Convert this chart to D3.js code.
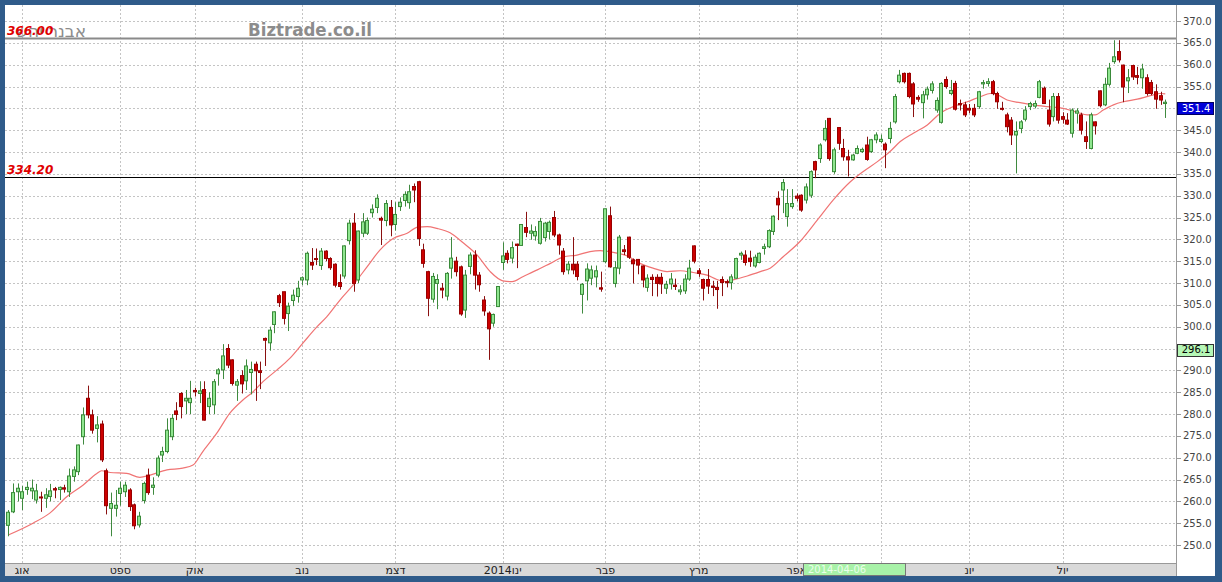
<!DOCTYPE html>
<html><head><meta charset="utf-8">
<script src="https://cdn.jsdelivr.net/npm/d3@7"></script>
<style>html,body{margin:0;padding:0;background:#2f5b8a;} svg{display:block}</style>
</head><body><svg id="c" width="1222" height="582"></svg>
<script>
// ---------- DATA ----------
const candleOpen = [254.5,257.6,262.2,260.7,262.7,262.4,260.3,261,260.7,261.1,
262.9,262.7,263.1,262.2,265.7,266.8,274.8,283.6,279.8,276.7,
277.7,267,258.4,258.4,261.8,262.2,262.6,259.2,254.6,260.2,
266,263.2,266,270.6,271.4,
274.8,280.7,284.7,283,282.6,
285.4,284.7,285.6,281.7,282.1,289.2,290.1,295,292.4,286.6,
288.8,287.6,289.5,291.4,289.9,297.3,296.3,300.5,307.1,308,
303,306,306.9,310.7,310.7,314.7,315.6,
314,317.3,315.6,314.3,310.1,311.6,319.7,323.7,310.7,321.4,
321.4,326.1,327.3,324.8,324.3,327.3,323.4,327.5,328.9,328.4,
332.1,333.2,317.6,312.6,306.3,309.9,308.8,307,313.4,315,313.7,303.8,
313.8,316.4,311.8,306.1,303.1,300.8,304.6,314.7,316.8,315.7,
318.9,318.6,322.7,321.4,320.8,319.1,320.4,321.8,325,321,
317.3,313,314.3,314.3,307.4,310.5,311.1,311.4,308.9,314.9,325.4,309.9,
313.4,317.6,320.5,315.3,315.4,313.9,309,311.3,311.3,311.3,
308.8,309.8,309.5,308,308.2,310.9,318.5,312.8,310.8,310.8,
309.3,309,310.8,310.3,310.1,311.1,316.4,316.4,315.7,313.9,314.7,317.9,318.3,
321.8,329.4,331.3,325.2,327.5,329.9,330.1,329,330.1,337.8,
338.5,342.8,347.7,335.5,345.6,340.8,338.9,338.2,339.7,340.1,
341.6,340.1,342.8,342.4,341.8,343.1,346.9,356.1,358,358,355.6,352.5,
351.3,353.1,354.1,349.6,346.8,356.6,353.4,355.7,351.1,350.8,
350,350,350.4,355.6,355.7,356.1,353.4,350,348.5,347.3,
343.9,345.4,347.5,350.4,350.5,352.5,354.6,349.6,
348.1,352.7,348.1,347.3,344.3,348.9,348.5,343.5,340.8,346.9,
354,350.8,355.5,360.7,363,359.9,356.3,359.8,357.5,357,
357,355.9,353.8,352.9,351.1];
const candleHigh = [258,264.1,264.1,263.5,264.5,265,264,262.2,263,264,
263.3,263.4,263.8,267.5,268,273,281.5,286.5,281,279.5,
278.5,267.5,262,262.6,264.5,264.5,263,259.5,257.6,264.5,
267.5,265.5,270.5,272.5,279,
280,282.7,285,285.5,287.6,
286,287.5,287.5,285,288,290.5,296,296,292.5,288,
290,292.5,292,292,292,297.5,300,303.5,307.5,308,
305.5,308.5,310.5,311.5,317.2,318,317.9,
318,317.5,315.9,314.5,312,318.6,324.5,326,322,326,
325,328,330.3,325.2,329,329,328.5,329.6,331,332.5,
332.8,333.4,319,312.8,312.3,312,310,312.5,320.5,316,314,313,
317,317.5,312.5,307,303.5,303,309.3,319.3,317.5,319.5,
319,323.5,326.3,323.4,323,324.9,324,324.3,326.5,321.3,
318,315,320.5,315,310,314.5,314,314,312.6,327,327.5,315,
321,318.7,320.6,315.6,315.5,314,312,312,312,312.3,
310.5,312.3,311,309.5,312,315.3,318.6,313.4,311,313.2,
310.5,310.5,311.5,310.8,312,315.8,317.2,317.5,317.4,316.5,317,319,322.3,
325.5,331,333.8,331.5,331.5,330.5,330.3,332.8,335.8,338,
342,347.3,347.8,341,345.7,343,340.5,339.6,341.5,341,
343.5,343,344.5,344,342.2,346.9,353.3,358.8,358.2,358.2,356,353,
354,355,356.2,352.5,356,357.3,356.5,356.3,352,351.5,
351,351,354,356.5,356.9,356.5,353.8,351.5,349,348,
347,347.3,350.5,351.5,351.8,356.5,355,352,
353.5,353.5,349.1,348.9,350,350,349,347,349,347,
354.1,357,360.4,365.6,365.6,360,359,360,359.5,360.2,
357.8,356.5,355.5,353.8,352];
const candleLow = [252,257.3,260,258,261.5,260.5,259.5,257.6,258.5,260,
260.7,260.3,262,261,264.5,266,273,279,275.5,273.5,
269,257,252,256.5,259,261,257.8,253.6,254,259.5,
261.5,261.5,265.5,269,271,
274,278.6,279,280,280,
284,282.5,278.5,280,280,286.5,288,290.5,286.5,283,
284.7,285.5,284.5,283,285.7,291,294.5,298.5,304.5,300.5,
299,304.7,305.5,309.5,309.5,313,314.1,
313,315,313,309,308.5,311,318.8,308,310,320.5,
321,325,326,318.7,323,320.7,322,326.5,327.5,327,
328.5,318.5,313.5,302.4,305.5,304,306.5,306,311,311.5,302.5,302,
312,308.5,308,302.5,292.4,300,304.5,313,314.5,314.5,
313.4,318.5,320.5,319.9,319.7,318.8,319.5,320,320.5,316.5,
311.9,312,312,310.6,303,306,309.5,309,308,314.5,313.5,309,
312,316.4,315.5,309.9,312,309,308,307,306.9,307.5,
307.5,308.5,308.4,307.3,307.5,310.5,314.5,311.4,306,307.5,
307,304.1,307,309,308.5,311,315.3,314,313.7,313.5,314.5,316.5,318,
321,324.4,326,322.9,327,328.7,326.3,328.2,329.5,334,
337.5,342.4,338,335,340.5,338,334.4,338,339.5,339.8,
338,339.8,342,342,336.3,342,346.5,355.7,355.7,352.3,348,351.5,
347.7,352,353.4,349,346.5,354.5,353,349.5,349.5,348,
348.9,348,349.9,354.5,355,353,349.9,349.5,344.5,341.6,
335.1,344.3,347,349.6,350,352.3,351,345.8,
347,346.5,346.5,346.2,343.3,346.5,344,340.7,340.6,344,
350.2,350.5,355,360.2,360.5,351.4,353.5,356.5,355.5,354.5,
352.9,353,349.9,350.8,347.8];
const candleClose = [257.5,262,263,262.2,263.2,263,262.4,260.8,261.5,262.4,
262.6,263.2,262.8,265.8,267.2,272.9,279.8,279.8,276.3,277.5,
269.5,259,259.5,259.1,263,263.7,258.8,254.4,256.6,264.1,
262,263.7,269.9,271.4,276.3,
279,279.9,281.7,283.6,283.6,
285.1,285.3,278.6,283.6,287.4,290.1,293.3,291.2,287,287.4,
286.9,291,290.2,289.9,289.5,296.9,299.2,303.4,305.5,301.9,
304.7,307.2,308.8,311.2,316.8,314.1,315.4,
317.3,315.6,313.5,309.5,309.2,318.5,323.7,309.9,321.9,324,
324.3,326.9,329.4,324.4,328.2,323.3,325.7,328.5,330.3,330.9,
331.3,320.2,314.5,306.5,311.5,310.8,308.4,312.2,315.7,312.6,302.9,311.8,
316.4,311.8,309.6,303.6,299.5,302.8,309.2,316.2,315.4,318.1,
318.6,323.4,321.6,321.9,321.8,324.1,323.7,323.9,321,318.7,
312.6,314.3,313,311.5,309.7,313.2,313,312.8,308.6,327,313.7,313.5,
320.5,317.2,315.9,314.4,314.1,310.7,311.1,310.8,309.9,309.8,
309.7,310.9,309.2,308.4,310.9,313.4,315,312.2,308.8,309.3,
309,308.5,310.1,310.1,311.4,315.6,316.8,314.7,314.9,315.9,316.8,318.3,322,
325.3,327.9,333,328.2,328.2,329.4,326.7,332,335.5,335.9,
341.6,345.4,338.5,340.5,342,338.9,338.2,339.3,340.8,340.6,
338.3,342.8,343.9,342.9,340.5,345.4,352.7,357.6,356.1,352.7,351,352.1,
353.1,354.4,355.6,351.8,355.7,355,354.1,349.8,350.8,348.5,
349.6,348.5,353.8,355.9,356.1,353.4,351.5,349.8,345.8,343.9,
344.7,346.9,349.6,351.1,351.1,356.1,351.1,346.4,
352.7,347.3,347.5,346.4,349.6,349.4,345,342.4,348.5,346,
350.6,355.5,359.2,361.8,361.1,354.9,357,357.2,357.1,359,
353.4,353.4,352.1,351.9,351.4];

// moving average, read at sample positions (candle index, value)
const maIndex = [0,5.3,8.9,12.6,16,19,20,21.8,25.4,28.2,30.4,34,37.4,39.6,41.7,44.7,47.5,50.3,52.5,54.6,57.6,60.4,63.2,66.2,68.3,71.1,73.9,76.9,79.7,82.5,85.5,87.8,89.8,91.9,94.7,97.5,100.5,103.3,106,108,110.4,113.4,116.2,119,121.9,124.7,126.9,129.7,132.7,135.4,138.2,141.2,144,146.8,149.8,151.9,154.1,155.4,158.4,161.2,163.3,166.1,169.7,173.4,176.8,180.5,183.2,186.3,189,191.2,194,197,199.8,202.6,205.6,208.4,210.5,212,214.1,216.9,219.7,222.7,226.1,229.1,231.3,233,234.7,236.9,239,242,244.8,246.9,248];
const maValue = [252.3,255,257.3,261.1,263.7,266.4,267,266.6,266.4,265.5,266,267.2,267.6,268.3,271.4,275.6,280.2,283.2,285.1,287.4,290.1,292.8,296.3,300,302.3,306.1,309.5,313.7,317.6,320.2,321.4,322.8,322.9,322.5,321.5,319.2,316.4,312.6,310.5,310.3,311.5,313,314.5,316,316.4,317.2,317.4,317,316.2,314.5,313.4,312.6,312.8,312.4,311.8,310.8,310.3,310.7,311.6,312.6,313.4,316,319.5,324.4,329,333.2,335.5,337.8,340.1,342.4,344.3,346.2,348.9,350.4,351.5,352.7,353.4,353.1,351.9,351.3,350.8,350.4,350,349.1,348.5,348.5,349.6,350.8,351.5,352.1,352.9,353.4,353.3];

const yTicks = [250,255,260,265,270,275,280,285,290,295,300,305,310,315,320,325,330,335,340,345,350,355,360,365,370];
const monthIndex = [3,24,40,63,83,106,128,148,169,187,206,226];
const monthLabels = ["אוג","ספט","אוק","נוב","דצמ","2014ינו","פבר","מרץ","אפר","מאי","יונ","יול"];
const levelValues = [366.00, 334.20];
const levelLabels = ["366.00","334.20"];
const lastPrice = 351.4;
const cursorPrice = 296.1;
const cursorDate = "2014-04-06";
const stockName = "אבנר יהש";
const siteName = "Biztrade.co.il";

// ---------- LAYOUT ----------
const W = 1222, H = 582;
const L = 5, R = 1176, T = 5, B = 563, AX_R = 1215, AX_B = 576;
const svg = d3.select("#c");
const n = candleOpen.length;

svg.append("rect").attr("x",0).attr("y",0).attr("width",W).attr("height",H).attr("fill","#2f5b8a");
svg.append("rect").attr("x",L).attr("y",T).attr("width",AX_R-L).attr("height",AX_B-T).attr("fill","#ffffff");
svg.append("rect").attr("x",L).attr("y",B).attr("width",R-L).attr("height",AX_B-B).attr("fill","#d9d9d9");

const x = d3.scaleLinear().domain([-0.7, n + 1.3]).range([L, R]);
const y = d3.scaleLinear().domain([250, 370]).range([545, 21]);

const plot = svg.append("g");
svg.append("clipPath").attr("id","clip").append("rect").attr("x",L).attr("y",T).attr("width",R-L).attr("height",B-T);
plot.attr("clip-path","url(#clip)");

// grid
plot.selectAll("line.hg").data(yTicks).join("line")
  .attr("x1",L).attr("x2",R)
  .attr("y1",d=>Math.round(y(d))+0.5).attr("y2",d=>Math.round(y(d))+0.5)
  .attr("stroke","#c4c4c4").attr("stroke-dasharray","2,2").attr("stroke-width",1);
plot.selectAll("line.vg").data(monthIndex).join("line")
  .attr("x1",d=>Math.round(x(d))+0.5).attr("x2",d=>Math.round(x(d))+0.5)
  .attr("y1",T).attr("y2",B)
  .attr("stroke","#c4c4c4").attr("stroke-dasharray","2,2").attr("stroke-width",1);

// header texts
svg.append("text").attr("x",86).attr("y",37).attr("text-anchor","end")
  .attr("font-family","DejaVu Sans, sans-serif").attr("font-size",17).attr("fill","#8c8c8c").text(stockName);
svg.append("text").attr("x",248).attr("y",36)
  .attr("font-family","DejaVu Sans, sans-serif").attr("font-weight","bold").attr("font-size",17)
  .attr("textLength",124).attr("lengthAdjust","spacingAndGlyphs")
  .attr("fill","#8c8c8c").text(siteName);

// level lines
plot.append("line").attr("x1",L).attr("x2",R).attr("y1",Math.round(y(levelValues[0]))+0.5).attr("y2",Math.round(y(levelValues[0]))+0.5)
  .attr("stroke","#8a8a8a").attr("stroke-width",2);
plot.append("line").attr("x1",L).attr("x2",R).attr("y1",Math.round(y(levelValues[1]))+0.5).attr("y2",Math.round(y(levelValues[1]))+0.5)
  .attr("stroke","#000").attr("stroke-width",1);
levelValues.forEach((v,i)=>{
  svg.append("text").attr("x",7).attr("y",y(v)-3)
    .attr("font-family","DejaVu Sans, sans-serif").attr("font-size",12).attr("font-style","italic").attr("font-weight","bold")
    .attr("fill","#e00000").text(levelLabels[i]);
});

// MA line
const maPts = maIndex.map((d,i)=>[d, maValue[i]]);
plot.append("path").datum(maPts)
  .attr("d", d3.line().x(d=>x(d[0])).y(d=>y(d[1])).curve(d3.curveMonotoneX))
  .attr("fill","none").attr("stroke","#f07474").attr("stroke-width",1.2);

// candles
const idx = d3.range(n);
const up = i => candleClose[i] >= candleOpen[i];
plot.selectAll("line.wick").data(idx).join("line")
  .attr("x1",i=>Math.round(x(i))+0.5).attr("x2",i=>Math.round(x(i))+0.5)
  .attr("y1",i=>y(candleHigh[i])).attr("y2",i=>y(candleLow[i]))
  .attr("stroke",i=>up(i)?"#3f8a3f":"#8a1010").attr("stroke-width",1);
plot.selectAll("rect.body").data(idx).join("rect")
  .attr("x",i=>Math.round(x(i))-1.5)
  .attr("width",3)
  .attr("y",i=>y(Math.max(candleOpen[i],candleClose[i])))
  .attr("height",i=>Math.max(1, Math.abs(y(candleOpen[i])-y(candleClose[i]))))
  .attr("fill",i=>up(i)?"#8fe68f":"#cc0000")
  .attr("stroke",i=>up(i)?"#3a8a3a":"#990000").attr("stroke-width",1);

// right axis
svg.append("line").attr("x1",R+0.5).attr("x2",R+0.5).attr("y1",T).attr("y2",AX_B).attr("stroke","#999");
svg.append("line").attr("x1",L).attr("x2",R).attr("y1",B+0.5).attr("y2",B+0.5).attr("stroke","#999");
const ax = svg.append("g");
yTicks.forEach(v=>{
  ax.append("line").attr("x1",R+1).attr("x2",R+5).attr("y1",Math.round(y(v))+0.5).attr("y2",Math.round(y(v))+0.5).attr("stroke","#999");
  ax.append("text").attr("x",R+7).attr("y",y(v)).attr("dy","0.35em")
    .attr("font-family","DejaVu Sans, sans-serif").attr("font-size",10).attr("fill","#444").text(v.toFixed(1));
});
// price tags
ax.append("rect").attr("x",R+1.5).attr("y",Math.round(y(lastPrice))+0.5).attr("width",36).attr("height",12).attr("fill","#0000d8").attr("stroke","#000060");
ax.append("text").attr("x",R+20).attr("y",y(lastPrice)+6).attr("dy","0.35em").attr("text-anchor","middle")
  .attr("font-family","DejaVu Sans, sans-serif").attr("font-size",10).attr("fill","#fff").text(lastPrice.toFixed(1));
ax.append("rect").attr("x",R+1.5).attr("y",Math.round(y(cursorPrice))+0.5).attr("width",36).attr("height",12).attr("fill","#b6f7b6").attr("stroke","#333");
ax.append("text").attr("x",R+20).attr("y",y(cursorPrice)+6).attr("dy","0.35em").attr("text-anchor","middle")
  .attr("font-family","DejaVu Sans, sans-serif").attr("font-size",10).attr("fill","#000").text(cursorPrice.toFixed(1));

// bottom axis
const bx = svg.append("g");
monthIndex.forEach((m,i)=>{
  bx.append("text").attr("x",x(m)).attr("y",573.5).attr("text-anchor","middle")
    .attr("font-family","DejaVu Sans, sans-serif").attr("font-size",11).attr("fill","#222").text(monthLabels[i]);
});
// crosshair date tag
bx.append("rect").attr("x",803.5).attr("y",B+0.5).attr("width",102).attr("height",AX_B-B-1).attr("fill","#a8f2a8").attr("stroke","#777");
bx.append("text").attr("x",808).attr("y",573)
  .attr("font-family","DejaVu Sans, sans-serif").attr("font-size",10).attr("fill","#eaffea").text(cursorDate);
</script></body></html>
